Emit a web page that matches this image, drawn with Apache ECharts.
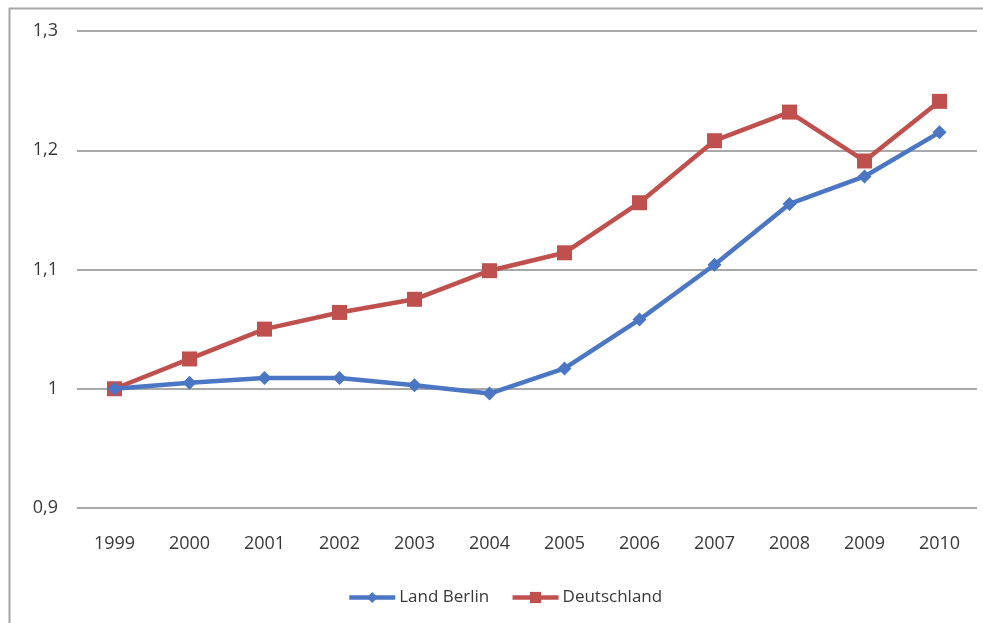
<!DOCTYPE html>
<html>
<head>
<meta charset="utf-8">
<script src="https://cdn.jsdelivr.net/npm/echarts@6/dist/echarts.min.js"></script>
<style>
  html, body { margin: 0; padding: 0; background: #fff; }
  #chart { width: 983px; height: 623px; }
</style>
</head>
<body>
<div id="chart"></div>
<script>
// Index values, 1999 = 1
const years = ['1999', '2000', '2001', '2002', '2003', '2004', '2005', '2006', '2007', '2008', '2009', '2010'];
const landBerlin = [1.000, 1.005, 1.009, 1.009, 1.003, 0.996, 1.017, 1.058, 1.104, 1.155, 1.178, 1.215];
const deutschland = [1.000, 1.025, 1.050, 1.064, 1.075, 1.099, 1.114, 1.156, 1.208, 1.232, 1.191, 1.241];
const yTicks = [0.9, 1.0, 1.1, 1.2, 1.3];

const FONT = 'Open Sans';
const TEXT = '#383838';
const BLUE = '#4a76c4';
const RED = '#c0504d';

const chart = echarts.init(document.getElementById('chart'), null, { renderer: 'canvas' });

chart.setOption({
  backgroundColor: '#ffffff',
  animation: false,
  textStyle: { fontFamily: FONT },
  grid: { left: 77, right: 6, top: 31, bottom: 115, containLabel: false },
  graphic: [
    { type: 'line', shape: { x1: 9.5, y1: 8, x2: 9.5, y2: 623 }, style: { stroke: '#a6a6a6', lineWidth: 2 } },
    { type: 'line', shape: { x1: 9, y1: 8.5, x2: 983, y2: 8.5 }, style: { stroke: '#a6a6a6', lineWidth: 2 } }
  ],
  legend: {
    bottom: 12,
    left: 342,
    itemGap: 21,
    itemWidth: 46,
    itemHeight: 14,
    textStyle: { fontFamily: FONT, fontSize: 17, color: TEXT, padding: [0, 0, 0, -1] },
    data: [
      { name: 'Land Berlin', lineStyle: { width: 4.5, color: BLUE }, itemStyle: { color: BLUE } },
      { name: 'Deutschland', lineStyle: { width: 4.5, color: RED }, itemStyle: { color: RED } }
    ]
  },
  xAxis: {
    type: 'category',
    data: years,
    boundaryGap: true,
    axisLine: { show: false },
    axisTick: { show: false },
    axisLabel: { color: TEXT, fontFamily: FONT, fontSize: 18, margin: 27 }
  },
  yAxis: {
    type: 'value',
    min: 0.9,
    max: 1.3,
    interval: 0.1,
    axisLine: { show: false },
    axisTick: { show: false },
    splitLine: { lineStyle: { color: '#8c8c8c', width: 1.5 } },
    axisLabel: {
      color: TEXT, fontFamily: FONT, fontSize: 18, margin: 19,
      formatter: v => {
        const t = yTicks.find(k => Math.abs(k - v) < 1e-6);
        return t === undefined ? '' : String(Math.round(t * 10) / 10).replace('.', ',');
      }
    }
  },
  series: [
    {
      name: 'Land Berlin',
      type: 'line',
      data: landBerlin,
      symbol: 'diamond',
      symbolSize: 14,
      lineStyle: { color: BLUE, width: 4.5 },
      itemStyle: { color: BLUE },
      z: 3
    },
    {
      name: 'Deutschland',
      type: 'line',
      data: deutschland,
      symbol: 'rect',
      symbolSize: 15,
      lineStyle: { color: RED, width: 4.5 },
      itemStyle: { color: RED },
      z: 2
    }
  ]
});
</script>
</body>
</html>
